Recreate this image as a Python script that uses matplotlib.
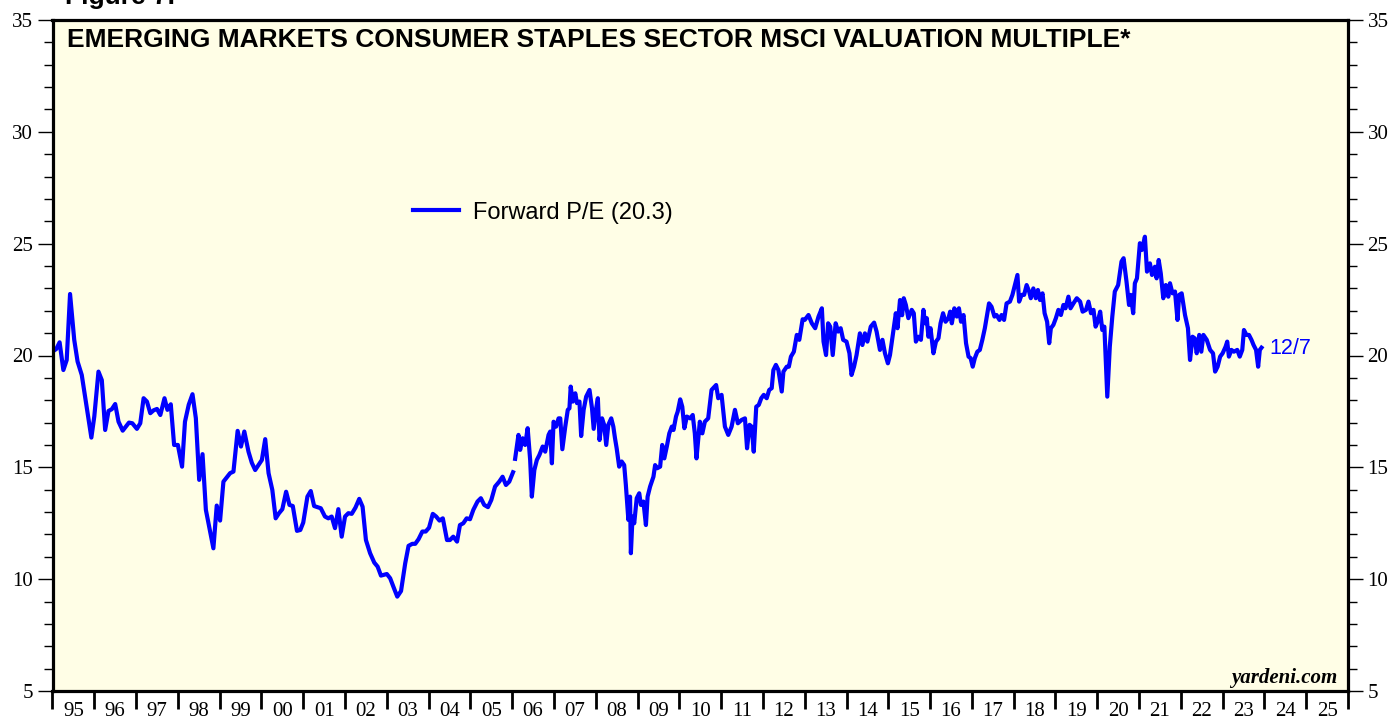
import matplotlib
matplotlib.use("Agg")
import matplotlib.pyplot as plt
from matplotlib.ticker import MultipleLocator, FixedLocator, NullFormatter, FixedFormatter
from matplotlib.lines import Line2D

# ---------------- data ----------------
# segment 1: roughly monthly, 1995 - early 2006
seg1_dates = [
    1995.02, 1995.09, 1995.17, 1995.26, 1995.34, 1995.42, 1995.52, 1995.60, 1995.70, 1995.93,
    1996.00, 1996.10, 1996.18, 1996.26, 1996.34, 1996.42, 1996.50, 1996.58, 1996.68, 1996.83,
    1996.91, 1997.02, 1997.10, 1997.18, 1997.26, 1997.34, 1997.42, 1997.50, 1997.58, 1997.68,
    1997.75, 1997.83, 1997.91, 1998.00, 1998.10, 1998.17, 1998.26, 1998.35, 1998.43, 1998.51,
    1998.59, 1998.67, 1998.85, 1998.93, 1999.01, 1999.09, 1999.17, 1999.25, 1999.33, 1999.43,
    1999.51, 1999.59, 1999.69, 1999.77, 1999.85, 2000.01, 2000.09, 2000.17, 2000.26, 2000.34,
    2000.42, 2000.50, 2000.59, 2000.67, 2000.75, 2000.85, 2000.93, 2001.00, 2001.10, 2001.18,
    2001.26, 2001.34, 2001.42, 2001.52, 2001.60, 2001.68, 2001.76, 2001.84, 2001.92, 2002.00,
    2002.08, 2002.16, 2002.25, 2002.34, 2002.42, 2002.50, 2002.60, 2002.70, 2002.78, 2002.86,
    2003.00, 2003.08, 2003.17, 2003.25, 2003.34, 2003.44, 2003.52, 2003.61, 2003.68, 2003.76,
    2003.85, 2003.93, 2004.01, 2004.10, 2004.18, 2004.26, 2004.34, 2004.44, 2004.51, 2004.59,
    2004.68, 2004.75, 2004.83, 2004.91, 2004.99, 2005.07, 2005.17, 2005.25, 2005.33, 2005.42,
    2005.50, 2005.59, 2005.69, 2005.77, 2005.85, 2005.93, 2006.02,
]
seg1_values = [
    20.20, 20.29, 20.59, 19.35, 19.80, 22.75, 20.70, 19.73, 19.13, 16.33,
    17.27, 19.28, 18.90, 16.67, 17.52, 17.60, 17.83, 17.04, 16.64, 17.00,
    16.97, 16.72, 16.97, 18.09, 17.94, 17.42, 17.55, 17.61, 17.34, 18.09,
    17.57, 17.82, 16.00, 16.00, 15.03, 17.04, 17.80, 18.27, 17.20, 14.44,
    15.59, 13.10, 11.38, 13.29, 12.62, 14.36, 14.55, 14.74, 14.81, 16.63,
    15.93, 16.60, 15.70, 15.20, 14.88, 15.33, 16.26, 14.74, 13.99, 12.72,
    12.95, 13.13, 13.91, 13.32, 13.27, 12.16, 12.20, 12.53, 13.69, 13.94,
    13.27, 13.22, 13.17, 12.80, 12.72, 12.80, 12.28, 13.13, 11.90, 12.80,
    12.95, 12.92, 13.20, 13.59, 13.24, 11.75, 11.16, 10.74, 10.56, 10.16,
    10.23, 10.04, 9.60, 9.22, 9.47, 10.71, 11.49, 11.58, 11.58, 11.79,
    12.13, 12.13, 12.30, 12.92, 12.80, 12.62, 12.72, 11.75, 11.75, 11.90,
    11.68, 12.42, 12.50, 12.72, 12.68, 13.10, 13.47, 13.62, 13.32, 13.22,
    13.54, 14.14, 14.36, 14.58, 14.21, 14.36, 14.78,
]

# segment 2: weekly-ish, 2006 - 12/7/2023
seg2_dates = [
    2006.07, 2006.15, 2006.19, 2006.25, 2006.31, 2006.37, 2006.43, 2006.47, 2006.53, 2006.59,
    2006.65, 2006.73, 2006.79, 2006.87, 2006.91, 2006.95, 2006.99, 2007.05, 2007.11, 2007.15,
    2007.20, 2007.27, 2007.33, 2007.37, 2007.40, 2007.45, 2007.51, 2007.55, 2007.61, 2007.65,
    2007.71, 2007.77, 2007.85, 2007.91, 2007.95, 2008.01, 2008.05, 2008.09, 2008.15, 2008.20,
    2008.25, 2008.30, 2008.37, 2008.42, 2008.46, 2008.50, 2008.56, 2008.62, 2008.68, 2008.72,
    2008.78, 2008.82, 2008.84, 2008.88, 2008.92, 2008.98, 2009.04, 2009.08, 2009.14, 2009.20,
    2009.24, 2009.30, 2009.34, 2009.38, 2009.42, 2009.47, 2009.54, 2009.59, 2009.64, 2009.70,
    2009.76, 2009.82, 2009.86, 2009.92, 2009.96, 2010.02, 2010.07, 2010.12, 2010.18, 2010.26,
    2010.32, 2010.37, 2010.41, 2010.49, 2010.55, 2010.61, 2010.69, 2010.77, 2010.88, 2010.93,
    2011.01, 2011.09, 2011.17, 2011.25, 2011.33, 2011.40, 2011.49, 2011.57, 2011.62, 2011.68,
    2011.73, 2011.78, 2011.84, 2011.90, 2011.96, 2012.02, 2012.09, 2012.15, 2012.21, 2012.25,
    2012.31, 2012.37, 2012.45, 2012.49, 2012.57, 2012.62, 2012.67, 2012.74, 2012.81, 2012.87,
    2012.95, 2013.00, 2013.09, 2013.17, 2013.25, 2013.33, 2013.41, 2013.45, 2013.51, 2013.56,
    2013.61, 2013.67, 2013.74, 2013.80, 2013.86, 2013.92, 2014.00, 2014.07, 2014.12, 2014.18,
    2014.24, 2014.32, 2014.38, 2014.44, 2014.50, 2014.58, 2014.66, 2014.72, 2014.80, 2014.86,
    2014.92, 2014.99, 2015.04, 2015.12, 2015.18, 2015.22, 2015.28, 2015.33, 2015.37, 2015.42,
    2015.48, 2015.56, 2015.61, 2015.66, 2015.72, 2015.78, 2015.84, 2015.88, 2015.92, 2015.96,
    2016.01, 2016.08, 2016.14, 2016.20, 2016.25, 2016.31, 2016.37, 2016.44, 2016.48, 2016.52,
    2016.58, 2016.64, 2016.69, 2016.74, 2016.80, 2016.86, 2016.92, 2016.97, 2017.02, 2017.07,
    2017.13, 2017.19, 2017.25, 2017.31, 2017.37, 2017.41, 2017.47, 2017.54, 2017.59, 2017.66,
    2017.71, 2017.77, 2017.83, 2017.91, 2017.97, 2018.03, 2018.09, 2018.13, 2018.19, 2018.25,
    2018.31, 2018.37, 2018.41, 2018.47, 2018.53, 2018.58, 2018.63, 2018.69, 2018.74, 2018.80,
    2018.85, 2018.89, 2018.95, 2019.01, 2019.07, 2019.13, 2019.19, 2019.24, 2019.31, 2019.36,
    2019.43, 2019.51, 2019.59, 2019.65, 2019.73, 2019.79, 2019.85, 2019.91, 2019.96, 2020.01,
    2020.07, 2020.12, 2020.17, 2020.24, 2020.30, 2020.36, 2020.42, 2020.50, 2020.58, 2020.63,
    2020.70, 2020.76, 2020.80, 2020.86, 2020.90, 2020.95, 2021.02, 2021.07, 2021.14, 2021.19,
    2021.26, 2021.31, 2021.38, 2021.42, 2021.47, 2021.52, 2021.58, 2021.64, 2021.70, 2021.74,
    2021.80, 2021.86, 2021.92, 2021.96, 2022.02, 2022.10, 2022.17, 2022.22, 2022.28, 2022.33,
    2022.38, 2022.44, 2022.49, 2022.54, 2022.62, 2022.70, 2022.77, 2022.82, 2022.88, 2022.94,
    2023.00, 2023.07, 2023.11, 2023.15, 2023.21, 2023.27, 2023.35, 2023.41, 2023.47, 2023.51,
    2023.57, 2023.63, 2023.69, 2023.74, 2023.80, 2023.85, 2023.89, 2023.93,
]
seg2_values = [
    15.38, 16.45, 15.78, 16.30, 16.00, 16.75, 15.33, 13.69, 14.88, 15.33,
    15.55, 15.93, 15.70, 16.45, 16.60, 15.18, 17.04, 16.82, 17.19, 17.19,
    15.81, 16.82, 17.57, 17.64, 18.61, 17.94, 18.31, 17.87, 17.94, 16.40,
    17.57, 18.16, 18.46, 17.64, 16.72, 17.64, 18.09, 16.22, 17.19, 16.90,
    16.00, 16.90, 17.19, 16.82, 16.30, 15.85, 15.03, 15.26, 15.10, 14.21,
    12.65, 13.69, 11.16, 12.80, 12.50, 13.62, 13.84, 13.32, 13.47, 12.42,
    13.69, 14.14, 14.36, 14.58, 15.10, 14.96, 15.03, 16.00, 15.40, 15.93,
    16.52, 16.82, 16.67, 17.27, 17.49, 18.04, 17.71, 16.75, 17.27, 17.19,
    17.34, 16.52, 15.40, 17.04, 16.52, 17.04, 17.19, 18.46, 18.68, 18.09,
    18.24, 16.82, 16.45, 16.82, 17.57, 16.97, 17.12, 17.19, 15.85, 16.90,
    16.82, 15.70, 17.71, 17.79, 18.09, 18.24, 18.09, 18.46, 18.54, 19.35,
    19.58, 19.35, 18.39, 19.28, 19.50, 19.50, 19.95, 20.17, 20.92, 20.70,
    21.62, 21.59, 21.81, 21.44, 21.22, 21.74, 22.11, 20.62, 20.02, 21.44,
    21.29, 20.02, 21.44, 21.07, 21.22, 20.70, 20.62, 20.10, 19.13, 19.50,
    20.02, 20.99, 20.47, 20.99, 20.62, 21.29, 21.47, 21.07, 20.25, 20.70,
    20.10, 19.65, 20.02, 21.07, 21.89, 21.22, 22.48, 21.80, 22.56, 22.26,
    21.67, 22.04, 21.89, 20.62, 20.84, 20.70, 22.04, 21.44, 21.67, 20.84,
    21.22, 20.10, 20.62, 20.77, 21.44, 21.89, 21.51, 21.67, 21.96, 21.44,
    22.11, 21.74, 22.11, 21.51, 21.81, 20.55, 19.95, 19.88, 19.50, 19.88,
    20.17, 20.25, 20.70, 21.22, 21.89, 22.33, 22.18, 21.74, 21.81, 21.59,
    21.81, 21.59, 22.33, 22.41, 22.71, 23.15, 23.60, 22.41, 22.71, 22.71,
    23.15, 22.86, 22.56, 23.00, 22.56, 22.93, 22.48, 22.78, 21.89, 21.51,
    20.55, 21.22, 21.37, 21.67, 22.04, 21.81, 22.26, 22.11, 22.63, 22.11,
    22.33, 22.56, 22.41, 21.96, 22.04, 22.41, 21.89, 22.04, 21.29, 21.51,
    21.96, 21.14, 21.29, 18.16, 20.39, 21.74, 22.86, 23.15, 24.20, 24.35,
    23.30, 22.26, 22.71, 21.89, 23.23, 23.45, 25.02, 24.72, 25.31, 23.75,
    24.12, 23.60, 23.97, 23.45, 24.27, 23.67, 22.56, 23.15, 22.63, 23.23,
    22.78, 22.86, 21.59, 22.71, 22.78, 21.81, 21.22, 19.80, 20.84, 20.77,
    20.10, 20.92, 20.17, 20.92, 20.70, 20.25, 20.10, 19.28, 19.50, 19.95,
    20.10, 20.39, 20.62, 19.95, 20.25, 20.17, 20.25, 19.95, 20.25, 21.14,
    20.92, 20.92, 20.70, 20.47, 20.25, 19.50, 20.25, 20.35,
]

title_text = "EMERGING MARKETS CONSUMER STAPLES SECTOR MSCI VALUATION MULTIPLE*"
legend_label = "Forward P/E (20.3)"
last_date_label = "12/7"
year_labels = ["95", "96", "97", "98", "99", "00", "01", "02", "03", "04", "05", "06",
               "07", "08", "09", "10", "11", "12", "13", "14", "15", "16", "17", "18",
               "19", "20", "21", "22", "23", "24", "25"]
x_start, x_end = 1995, 2026
y_min, y_max = 5, 35

# ---------------- figure ----------------
W, H = 1395, 719
fig = plt.figure(figsize=(W / 100, H / 100), dpi=100)
fig.patch.set_facecolor("white")
ax = fig.add_axes([52.5 / W, (H - 691) / H, (1348 - 52.5) / W, (691 - 20) / H])
ax.set_facecolor("#FFFEE6")

line_color = "#0000FF"
lw = 3.0
ax.plot(seg1_dates, seg1_values, color=line_color, lw=lw, solid_joinstyle="round")
ax.plot(seg2_dates, seg2_values, color=line_color, lw=lw, solid_joinstyle="round")

ax.set_xlim(x_start, x_end)
ax.set_ylim(y_min, y_max)

for s in ax.spines.values():
    s.set_linewidth(2.3)
    s.set_color("black")

serif = ["Liberation Serif", "DejaVu Serif"]
sans = ["Liberation Sans", "DejaVu Sans"]

# y axis (both sides)
ax.yaxis.set_major_locator(MultipleLocator(5))
ax.yaxis.set_minor_locator(MultipleLocator(1))
ax.tick_params(axis="y", which="both", left=True, right=True, labelleft=True,
               labelright=True, direction="out", colors="black")
ax.tick_params(axis="y", which="major", length=11, width=1.0, pad=3, labelsize=15)
ax.tick_params(axis="y", which="minor", length=6.5, width=1.0)
for lab in ax.get_yticklabels():
    lab.set_fontfamily(serif)

# x axis: year boundaries as ticks, labels centred in each year
ax.xaxis.set_major_locator(FixedLocator(list(range(x_start, x_end + 1))))
ax.xaxis.set_major_formatter(NullFormatter())
ax.xaxis.set_minor_locator(FixedLocator([x_start + i + 0.5 for i in range(len(year_labels))]))
ax.xaxis.set_minor_formatter(FixedFormatter(year_labels))
ax.tick_params(axis="x", which="major", direction="out", length=13, width=2.0, bottom=True, top=False)
ax.tick_params(axis="x", which="minor", length=0, pad=8, labelsize=15)
for lab in ax.get_xticklabels(minor=True):
    lab.set_fontfamily(serif)

# title inside plot
ax.text(0.0112, 0.970, title_text, transform=ax.transAxes, ha="left", va="center",
        fontsize=19, fontweight="bold", family=sans, color="black")

# legend
handle = Line2D([], [], color=line_color, lw=lw)
leg = ax.legend([handle], [legend_label], loc="center left", bbox_to_anchor=(0.278, 0.713),
                frameon=False, handlelength=1.95, handletextpad=0.6, borderpad=0,
                borderaxespad=0, prop={"family": sans, "size": 17})

# end label
ax.text(2024.13, seg2_values[-1] - 0.05, last_date_label, color=line_color, fontsize=15.5,
        family=sans, ha="left", va="center")

# source
ax.text(0.9915, 0.012, "yardeni.com", transform=ax.transAxes, ha="right", va="baseline",
        fontsize=15, fontweight="bold", fontstyle="italic", family=serif)

# cut-off figure label at top
fig.text(65 / W, 1 - 4 / H, "Figure 7.", ha="left", va="baseline", fontsize=19,
         fontweight="bold", family=sans)

fig.savefig("out.png", dpi=100)
